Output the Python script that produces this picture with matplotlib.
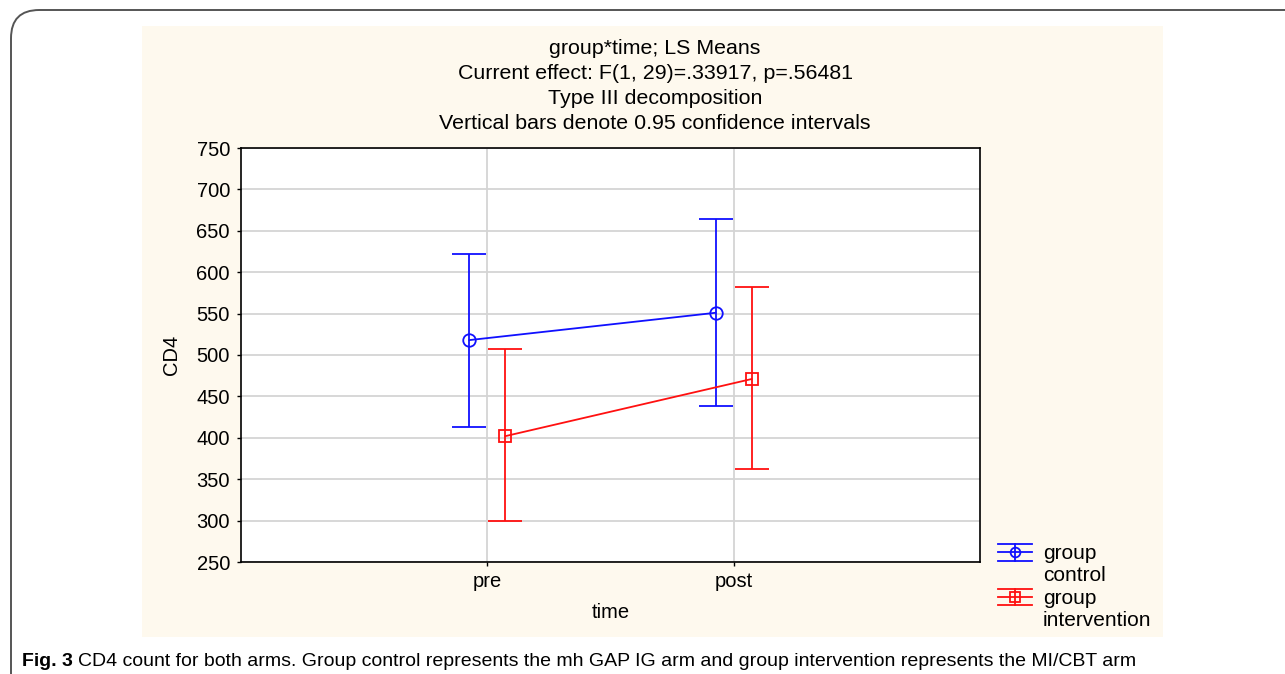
import numpy as np
import matplotlib
matplotlib.use("Agg")
from matplotlib import pyplot as plt
from matplotlib.patches import Rectangle, FancyBboxPatch
from matplotlib.lines import Line2D
from matplotlib.legend_handler import HandlerBase

plt.rcParams['font.family'] = ['Liberation Sans', 'DejaVu Sans']

# LS means and 0.95 confidence limits
times = ['pre', 'post']
ctrl_mean = [518, 551]
ctrl_lo = [413, 439]
ctrl_hi = [622, 664]
intv_mean = [402, 471]
intv_lo = [300, 362]
intv_hi = [507, 582]
series_names = ['group\ncontrol', 'group\nintervention']

W, H = 1285, 674
fig = plt.figure(figsize=(W/100, H/100), dpi=100)

# outer rounded frame (only top/left visible)
frame = FancyBboxPatch((11/W, -0.2), 1.3, (H-10)/H + 0.2,
                       boxstyle="round,pad=0,rounding_size=0.022",
                       transform=fig.transFigure, fc='none', ec='#555555', lw=1.4,
                       mutation_aspect=W/H, zorder=-2)
fig.patches.append(frame)

# beige panel
fig.patches.append(Rectangle((142/W, (H-637)/H), 1021/W, 611/H,
                             transform=fig.transFigure, fc='#fef9ee', ec='none', zorder=-1))

ax = fig.add_axes([241/W, (H-562)/H, 739/W, 414/H], zorder=1)
ax.set_facecolor('white')

x = np.arange(1, len(times)+1)
off = 0.073
clr_c = '#1010ff'
clr_i = '#ff1010'
fs = 14.5

def draw(xx, m, lo, hi, c, mk):
    m = np.array(m); lo = np.array(lo); hi = np.array(hi)
    ax.errorbar(xx, m, yerr=[m-lo, hi-m], color=c, lw=1.3, capsize=12, capthick=1.3,
                marker=mk, mfc='none', mec=c, ms=9, mew=1.3, zorder=3)

draw(x-off, ctrl_mean, ctrl_lo, ctrl_hi, clr_c, 'o')
draw(x+off, intv_mean, intv_lo, intv_hi, clr_i, 's')

ax.set_xlim(0, 3)
ax.set_ylim(250, 750)
ax.set_xticks(x)
ax.set_xticklabels(times)
ax.set_yticks(np.arange(250, 751, 50))
ax.tick_params(length=3, width=1, direction='out', labelsize=fs, pad=5)
ax.tick_params(axis='x', pad=4)
ax.grid(True, color='#d4d4d4', lw=1.3)
ax.set_axisbelow(True)
for s in ax.spines.values():
    s.set_linewidth(1.2)
ax.set_xlabel('time', fontsize=fs, labelpad=9)
ax.set_ylabel('CD4', fontsize=fs, labelpad=11)

title = ('group*time; LS Means\nCurrent effect: F(1, 29)=.33917, p=.56481\n'
         'Type III decomposition\nVertical bars denote 0.95 confidence intervals')
fig.text(655/W, 1-39/H, title, ha='center', va='top', fontsize=15.4, linespacing=1.41)


class ErrHandler(HandlerBase):
    def __init__(self, mk):
        super().__init__()
        self.mk = mk

    def create_artists(self, legend, orig, xd, yd, w, h, fsz, trans):
        c = orig.get_color()
        yc = h/2 - yd + 0.6*fsz
        arts = []
        for dy in (-0.58*h, 0, 0.58*h):
            arts.append(Line2D([-xd, -xd+w], [yc+dy]*2, color=c, lw=1.3, transform=trans))
        arts.append(Line2D([-xd+w/2]*2, [yc-0.58*h, yc+0.58*h], color=c, lw=1.3, transform=trans))
        arts.append(Line2D([-xd+w/2], [yc], marker=self.mk, mfc='none', mec=c, ms=7,
                           mew=1.3, transform=trans))
        return arts

hc = Line2D([], [], color=clr_c)
hi_ = Line2D([], [], color=clr_i)
leg = fig.legend([hc, hi_], series_names, loc='upper left',
                 bbox_to_anchor=(998/W, 1-544/H), frameon=False, fontsize=15,
                 handlelength=1.65, handletextpad=0.5, labelspacing=0.18,
                 borderaxespad=0, borderpad=0,
                 handler_map={hc: ErrHandler('o'), hi_: ErrHandler('s')})

fig.text(22/W, 1-662/H, 'Fig. 3', fontsize=14, va='center', fontweight='bold')
fig.text(78/W, 1-662/H,
         'CD4 count for both arms. Group control represents the mh GAP IG arm and group '
         'intervention represents the MI/CBT arm', fontsize=14, va='center')

fig.savefig('out.png', dpi=100)
